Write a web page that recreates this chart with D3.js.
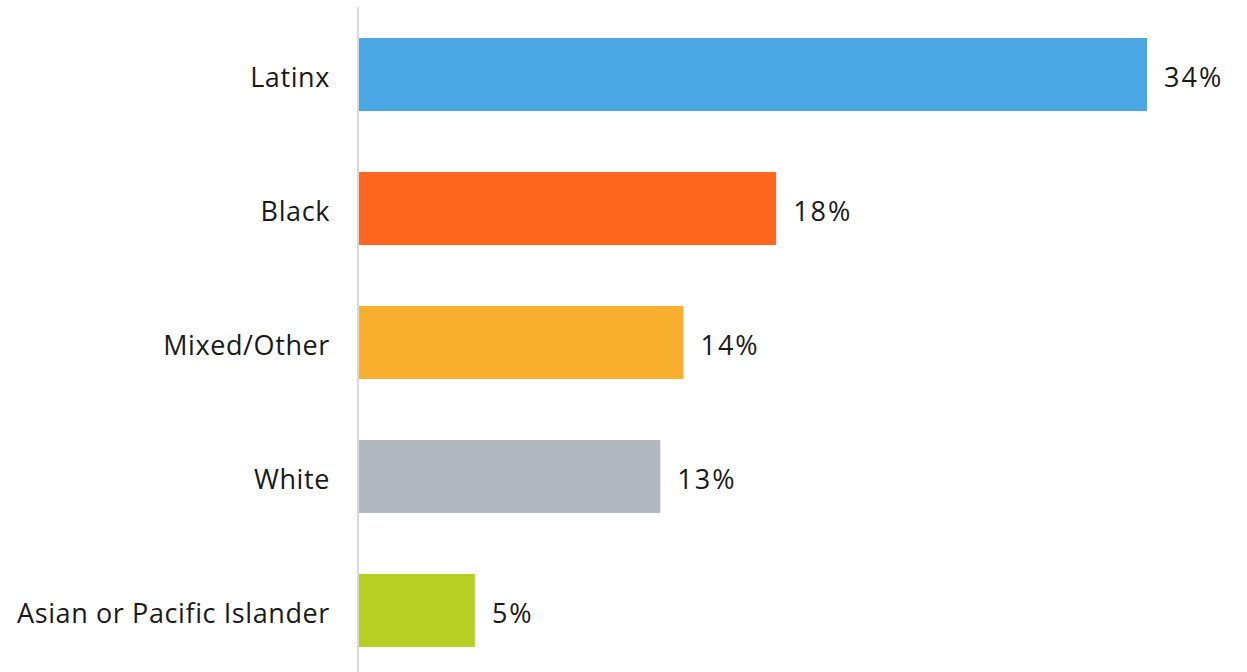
<!DOCTYPE html>
<html>
<head>
<meta charset="utf-8">
<script src="https://cdn.jsdelivr.net/npm/d3@7"></script>
<style>
  html, body { margin: 0; padding: 0; background: #ffffff; }
  svg { display: block; }
  text { font-family: "Open Sans", "Noto Sans", sans-serif; fill: #1a1a1a; }
</style>
</head>
<body>
<svg id="chart" width="1247" height="672"></svg>
<script>
// Share of respondents by race / ethnicity
const categories = ["Latinx", "Black", "Mixed/Other", "White", "Asian or Pacific Islander"];
const values = [34, 18, 14, 13, 5];
const colors = ["#4aa7e4", "#ff6720", "#f9b02f", "#b3b7bf", "#b5cf22"];

const svg = d3.select("#chart");
const width = 1247, height = 672;
const axisX = 359;

const y = d3.scaleBand()
  .domain(categories)
  .range([7.5, 677.5])
  .paddingInner(0.455)
  .paddingOuter(0.228);

const x = d3.scaleLinear()
  .domain([0, 34])
  .range([axisX, 1147]);

// bars
svg.append("g").selectAll("rect")
  .data(categories)
  .join("rect")
  .attr("x", x(0))
  .attr("y", d => y(d))
  .attr("width", (d, i) => x(values[i]) - x(0))
  .attr("height", y.bandwidth())
  .attr("fill", (d, i) => colors[i]);

// vertical baseline
svg.append("line")
  .attr("x1", axisX - 1).attr("x2", axisX - 1)
  .attr("y1", 7).attr("y2", height)
  .attr("stroke", "#d9d9d9")
  .attr("stroke-width", 2);

// category labels
svg.append("g").selectAll("text")
  .data(categories)
  .join("text")
  .attr("x", 330)
  .attr("y", d => y(d) + y.bandwidth() / 2)
  .attr("dy", "0.46em")
  .attr("text-anchor", "end")
  .attr("font-size", 27)
  .attr("letter-spacing", 0.6)
  .text(d => d);

// value labels
svg.append("g").selectAll("text")
  .data(categories)
  .join("text")
  .attr("x", (d, i) => x(values[i]) + 17)
  .attr("y", d => y(d) + y.bandwidth() / 2)
  .attr("dy", "0.46em")
  .attr("font-size", 27)
  .attr("letter-spacing", 2)
  .text((d, i) => values[i] + "%");
</script>
</body>
</html>
